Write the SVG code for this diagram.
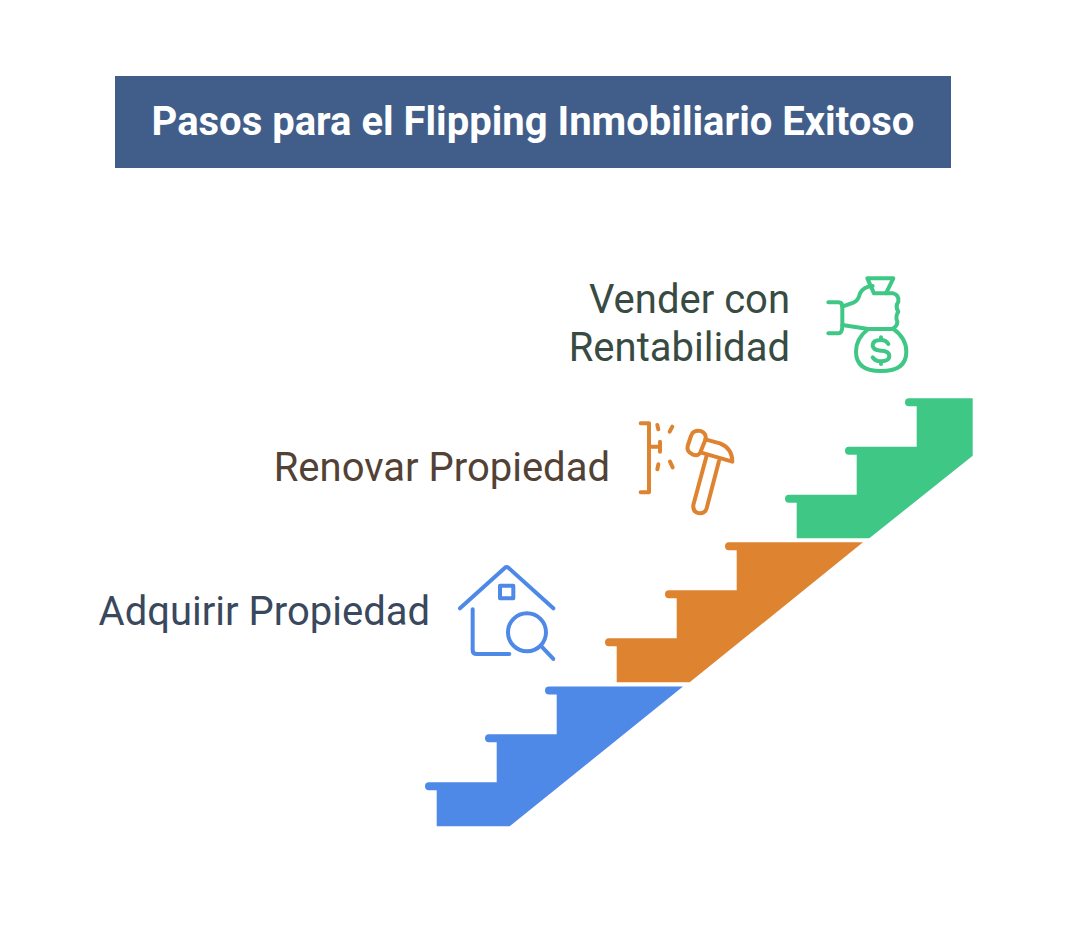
<svg xmlns="http://www.w3.org/2000/svg" width="1066" height="935" viewBox="0 0 1066 935">
<style>
text{font-family:Roboto,"Liberation Sans",sans-serif}
.lbl{font-size:40px;text-anchor:end}
.ic{fill:none;stroke-width:12;stroke-linecap:round;stroke-linejoin:round}
</style>
<rect width="1066" height="935" fill="#fff"/>
<g id="title">
<rect x="115" y="76" width="836" height="92" fill="#415e8a"/>
<text x="533" y="135" text-anchor="middle" font-size="40" font-weight="700" fill="#fff">Pasos para el Flipping Inmobiliario Exitoso</text>
</g>
<g id="step-1">
<path fill="#4e89e8" d="M436.7 826.3V790.3H429a4 4 0 0 1 0-8H496.7V742.3H489a4 4 0 0 1 0-8H556.7V694.5H549a4 4 0 0 1 0-8H683L509.7 826.3Z"/>
<g class="ic" stroke="#4e89e8" transform="translate(450 555) scale(.3333)">
<path d="M30 160L165 38Q170 34 175 38L310 160"/>
<rect x="150" y="92" width="40" height="38"/>
<path d="M68 163V285Q68 297 80 297H178"/>
<circle cx="231" cy="232" r="57"/>
<path d="M275 275L310 312"/>
</g>
<text class="lbl" x="430" y="625" fill="#3a485e">Adquirir Propiedad</text>
</g>
<g id="step-2">
<path fill="#de8431" d="M616.7 682.3V646.3H609a4 4 0 0 1 0-8H676.7V598.3H669a4 4 0 0 1 0-8H736.7V550.3H729a4 4 0 0 1 0-8H863L689.7 682.3Z"/>
<g class="ic" stroke="#de8431" transform="translate(625 410) scale(.3333)">
<path d="M47 40H72V247H47M72 110H105M105 95V125"/>
<path d="M97 45L100 58M142 50L134 65M97 178L100 163M135 155L143 172"/>
<path d="M206 66Q222 58 236 68Q245 76 241 90L226 127Q219 140 204 134Q184 125 188 108L198 78Q200 70 206 66Z"/>
<path d="M241 88L285 100Q322 115 322 155L229 128"/>
<path d="M244 140L205 285Q203 308 224 310Q240 310 245 295L282 153"/>
</g>
<text class="lbl" x="610" y="481" fill="#524235">Renovar Propiedad</text>
</g>
<g id="step-3">
<path fill="#3fc786" d="M796.7 538.3V502.7H789a4 4 0 0 1 0-8H856.7V454.7H849a4 4 0 0 1 0-8H916.7V406.3H909a4 4 0 0 1 0-8H972.7V455.7L869.3 538.3Z"/>
<g class="ic" stroke="#3fc786" transform="translate(810 260) scale(.3333)">
<path d="M172 55H250L228 100H192Z"/>
<path d="M55 127H85Q97 127 97 140V195Q97 220 85 220H55"/>
<path d="M97 140L130 128Q145 122 150 100Q160 80 188 78"/>
<path d="M97 195L175 207H245"/>
<path d="M228 100H250Q268 105 265 125Q255 140 265 155Q255 170 262 185Q262 200 245 207"/>
<path d="M175 207Q138 235 138 275Q138 333 213 333Q289 333 289 275Q289 235 250 207"/>
<path d="M235 252Q228 240 213 240Q188 240 188 256Q188 271 213 272Q238 273 238 288Q238 304 213 304Q196 304 188 292M213 232V240M213 304V312"/>
</g>
<text class="lbl" x="790" y="313" fill="#384b43">Vender con</text>
<text class="lbl" x="790" y="361" fill="#384b43">Rentabilidad</text>
</g>
<g id="connectors"></g>
</svg>
